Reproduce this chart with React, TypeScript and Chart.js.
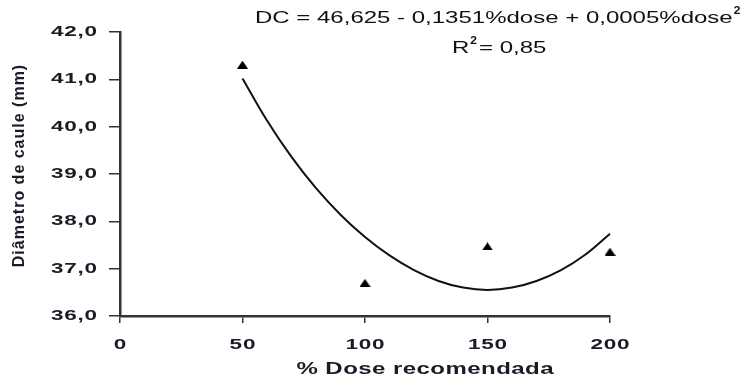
import React, { useEffect, useRef } from 'react';
import { Chart, registerables } from 'chart.js';

Chart.register(...registerables);

// Observed means (triangles)
const doseLevels = [50, 100, 150, 200];
const stemDiameter = [41.31, 36.7, 37.47, 37.36];

// Fitted trend curve
const curveDose = [50, 60, 70, 80, 90, 100, 110, 120, 130, 140, 150, 160, 170, 180, 190, 200];
const curveDiameter = [41.02, 40.13, 39.36, 38.7, 38.14, 37.67, 37.28, 36.97, 36.74, 36.6, 36.55, 36.6, 36.74, 36.97, 37.3, 37.74];

const xTickValues = [0, 50, 100, 150, 200];
const yTickValues = [36, 37, 38, 39, 40, 41, 42];

const equationText = 'DC = 46,625 - 0,1351%dose + 0,0005%dose';
const r2Label = 'R';
const r2Value = ' = 0,85';
const xTitle = '% Dose recomendada';
const yTitle = 'Diâmetro de caule (mm)';

const FONT = "'Liberation Sans', Arial, sans-serif";
const TEXT_COLOR = '#1b1b28';
const STRETCH = 1.5;

function drawText(
  ctx: CanvasRenderingContext2D,
  text: string,
  x: number,
  y: number,
  font: string,
  k: number,
  spacing: number,
  align: 'left' | 'center' | 'right'
): number {
  ctx.save();
  ctx.font = font;
  (ctx as any).letterSpacing = spacing + 'px';
  ctx.textAlign = 'left';
  ctx.textBaseline = 'middle';
  const w = (ctx.measureText(text).width - spacing) * k;
  const left = align === 'left' ? x : align === 'center' ? x - w / 2 : x - w;
  ctx.translate(left, y);
  ctx.scale(k, 1);
  ctx.fillText(text, 0, 0);
  ctx.restore();
  return w;
}

const textPlugin = {
  id: 'textPlugin',
  afterDraw(chart: any) {
    const ctx = chart.ctx as CanvasRenderingContext2D;
    const xs = chart.scales.x;
    const ys = chart.scales.y;
    ctx.save();
    ctx.fillStyle = TEXT_COLOR;
    const tickFont = `bold 15px ${FONT}`;

    // Y tick labels
    yTickValues.forEach((v) => {
      const py = ys.getPixelForValue(v);
      drawText(ctx, v.toFixed(1).replace('.', ','), 97, py, tickFont, STRETCH, 0.5, 'right');
    });
    // X tick labels
    xTickValues.forEach((v) => {
      const px = xs.getPixelForValue(v);
      drawText(ctx, String(v), px, 345, tickFont, STRETCH, 0.5, 'center');
    });

    // X title
    drawText(ctx, xTitle, 425, 370, `bold 16px ${FONT}`, STRETCH, 0.3, 'center');

    // Y title
    ctx.save();
    ctx.translate(20, 166);
    ctx.rotate(-Math.PI / 2);
    drawText(ctx, yTitle, 0, 0, `bold 16px ${FONT}`, 1, 1, 'center');
    ctx.restore();

    // Equation
    ctx.fillStyle = '#111';
    const ew = drawText(ctx, equationText, 255, 19, `16px ${FONT}`, STRETCH, 0, 'left');
    drawText(ctx, '2', 255 + ew + 1, 11, `bold 10px ${FONT}`, 1.2, 0, 'left');

    // R²
    const rw = drawText(ctx, r2Label, 452, 49, `16px ${FONT}`, STRETCH, 0, 'left');
    drawText(ctx, '2', 452 + rw + 1, 41, `bold 10px ${FONT}`, 1.2, 0, 'left');
    drawText(ctx, r2Value, 452 + rw + 3, 49, `16px ${FONT}`, STRETCH, 0, 'left');

    ctx.restore();
  },
};

function makeTriangle(): HTMLCanvasElement {
  const c = document.createElement('canvas');
  c.width = 11;
  c.height = 8;
  const g = c.getContext('2d')!;
  g.fillStyle = '#000';
  g.beginPath();
  g.moveTo(0, 8);
  g.lineTo(5.5, 0);
  g.lineTo(11, 8);
  g.closePath();
  g.fill();
  return c;
}

export default function App() {
  const canvasRef = useRef<HTMLCanvasElement | null>(null);

  useEffect(() => {
    const canvas = canvasRef.current;
    if (!canvas) return;
    const tri = makeTriangle();
    const chart = new Chart(canvas, {
      type: 'scatter',
      data: {
        datasets: [
          {
            label: 'curve',
            data: curveDose.map((x, i) => ({ x, y: curveDiameter[i] })),
            showLine: true,
            borderColor: '#111',
            borderWidth: 2,
            pointRadius: 0,
            tension: 0.4,
            fill: false,
            clip: false,
          },
          {
            label: 'obs',
            data: doseLevels.map((x, i) => ({ x, y: stemDiameter[i] })),
            showLine: false,
            pointStyle: tri,
            pointRadius: 5,
            backgroundColor: '#000',
            borderColor: '#000',
            borderWidth: 0,
            clip: false,
          },
        ],
      },
      options: {
        responsive: false,
        animation: false,
        devicePixelRatio: 1,
        layout: { padding: { left: 0, top: 32, right: 137, bottom: 0 } },
        plugins: { legend: { display: false }, tooltip: { enabled: false } },
        scales: {
          x: {
            type: 'linear',
            min: 0,
            max: 200,
            afterFit: (s: any) => { s.height = 65; },
            afterBuildTicks: (s: any) => { s.ticks = xTickValues.map((v) => ({ value: v })); },
            ticks: { display: false },
            grid: { drawOnChartArea: false, drawTicks: true, tickLength: 7, color: '#333', lineWidth: 1.5 },
            border: { display: true, color: '#333', width: 2.5 },
          },
          y: {
            type: 'linear',
            min: 36,
            max: 42,
            afterFit: (s: any) => { s.width = 120; },
            afterBuildTicks: (s: any) => { s.ticks = yTickValues.map((v) => ({ value: v })); },
            ticks: { display: false },
            grid: { drawOnChartArea: false, drawTicks: true, tickLength: 11, color: '#333', lineWidth: 1.5 },
            border: { display: true, color: '#333', width: 2.5 },
          },
        },
      },
      plugins: [textPlugin],
    } as any);
    return () => chart.destroy();
  }, []);

  return (
    <div style={{ position: 'fixed', left: 0, top: 0, width: 747, height: 381, background: '#fff' }}>
      <canvas ref={canvasRef} width={747} height={381} style={{ display: 'block' }} />
    </div>
  );
}
